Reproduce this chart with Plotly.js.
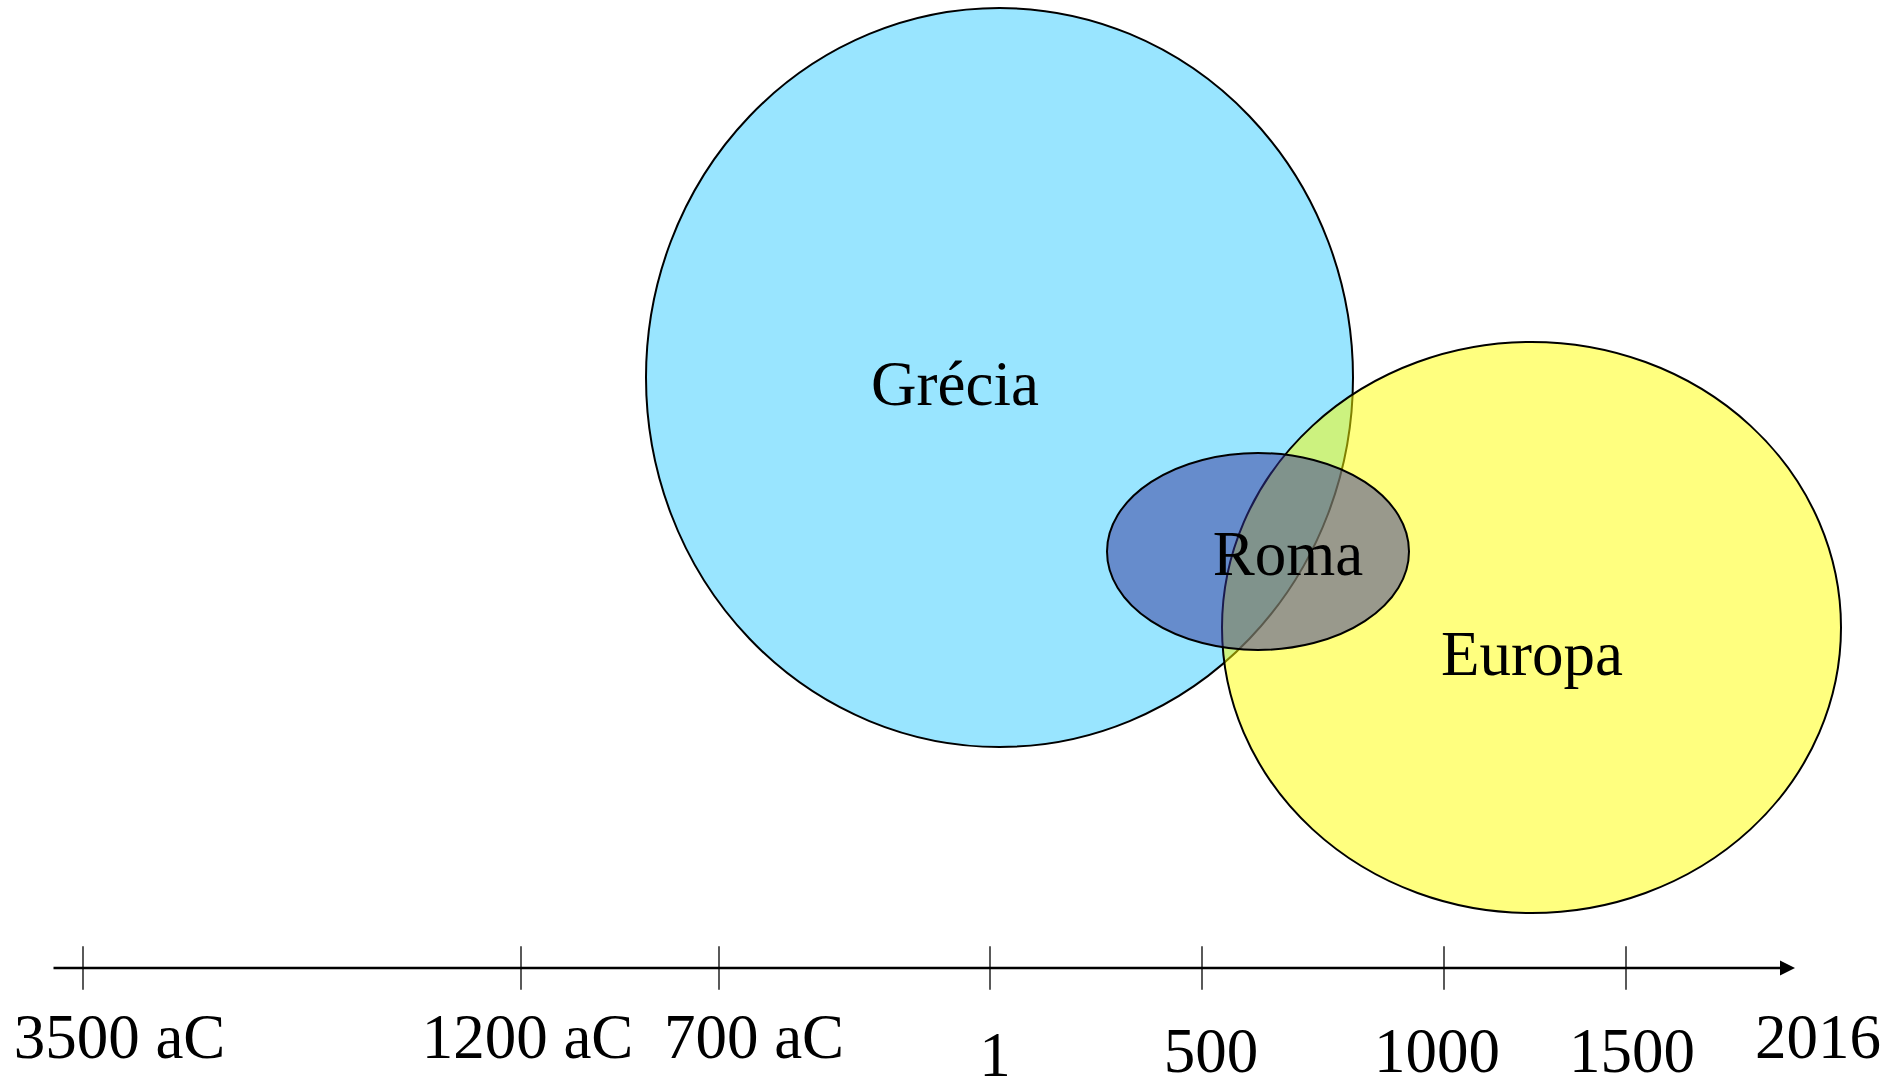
<!DOCTYPE html>
<html>
<head>
<meta charset="utf-8">
<script src="https://cdn.plot.ly/plotly-3.0.1.min.js"></script>
<style>
  html, body { margin: 0; padding: 0; background: #ffffff; }
  #chart { width: 1891px; height: 1079px; }
</style>
</head>
<body>
<div id="chart"></div>
<script>
// ---- Data (timeline units) ----
const tickNames = ['3500 aC', '1200 aC', '700 aC', '1', '500', '1000', '1500'];
const tickPos = [83, 521, 719, 990, 1202, 1444, 1626];

const labelNames = ['3500 aC', '1200 aC', '700 aC', '1', '500', '1000', '1500', '2016'];
const labelX = [119.5, 527.5, 754, 995, 1211, 1437, 1632, 1818];
const labelY = [1042, 1042, 1042, 1060, 1056, 1056, 1056, 1042];

const timelineExtent = [52, 1795];
const timelineLevel = 968;

const civNames = ['Grécia', 'Europa', 'Roma'];
const civX0 = [646, 1222, 1107];
const civX1 = [1353, 1841, 1409];
const civY0 = [8, 342, 453];
const civY1 = [747, 913, 650];
const civLabelX = [955, 1532, 1288];
const civLabelY = [389, 659, 559];
const civColors = ['rgb(153,229,255)', 'rgba(255,255,0,0.5)', 'rgba(51,51,153,0.5)'];

// ---- Build figure ----
const FONT = '"Liberation Serif", "Times New Roman", Times, serif';

const shapes = civNames.map((n, i) => ({
  type: 'circle',
  xref: 'x', yref: 'y',
  x0: civX0[i], x1: civX1[i], y0: civY0[i], y1: civY1[i],
  fillcolor: civColors[i],
  line: { color: '#000000', width: 2 },
  layer: 'below'
}));

const tickTrace = {
  type: 'scatter',
  mode: 'markers',
  x: tickPos,
  y: tickPos.map(() => timelineLevel),
  text: tickNames,
  hoverinfo: 'text',
  marker: { symbol: 'line-ns', size: 31, color: '#000000', line: { color: '#000000', width: 1.3 } },
  showlegend: false
};

const tickLabelTrace = {
  type: 'scatter',
  mode: 'text',
  x: labelX,
  y: labelY,
  text: labelNames,
  textposition: 'middle center',
  textfont: { family: FONT, size: 63, color: '#000000' },
  hoverinfo: 'none',
  showlegend: false
};

const civLabelTrace = {
  type: 'scatter',
  mode: 'text',
  x: civLabelX,
  y: civLabelY,
  text: civNames,
  textposition: 'middle center',
  textfont: { family: FONT, size: 63, color: '#000000' },
  hoverinfo: 'none',
  showlegend: false
};

const layout = {
  width: 1891,
  height: 1079,
  margin: { l: 0, r: 0, t: 0, b: 0, pad: 0 },
  paper_bgcolor: '#ffffff',
  plot_bgcolor: '#ffffff',
  showlegend: false,
  xaxis: { range: [0, 1891], visible: false, fixedrange: true },
  yaxis: { range: [1079, 0], visible: false, fixedrange: true },
  shapes: shapes,
  annotations: [{
    xref: 'x', yref: 'y', axref: 'x', ayref: 'y',
    x: timelineExtent[1], y: timelineLevel,
    ax: timelineExtent[0], ay: timelineLevel,
    text: '',
    showarrow: true,
    arrowhead: 2,
    arrowsize: 1.2,
    arrowwidth: 2.5,
    arrowcolor: '#000000'
  }]
};

Plotly.newPlot('chart', [tickTrace, civLabelTrace, tickLabelTrace], layout, { displayModeBar: false, staticPlot: true });
</script>
</body>
</html>
